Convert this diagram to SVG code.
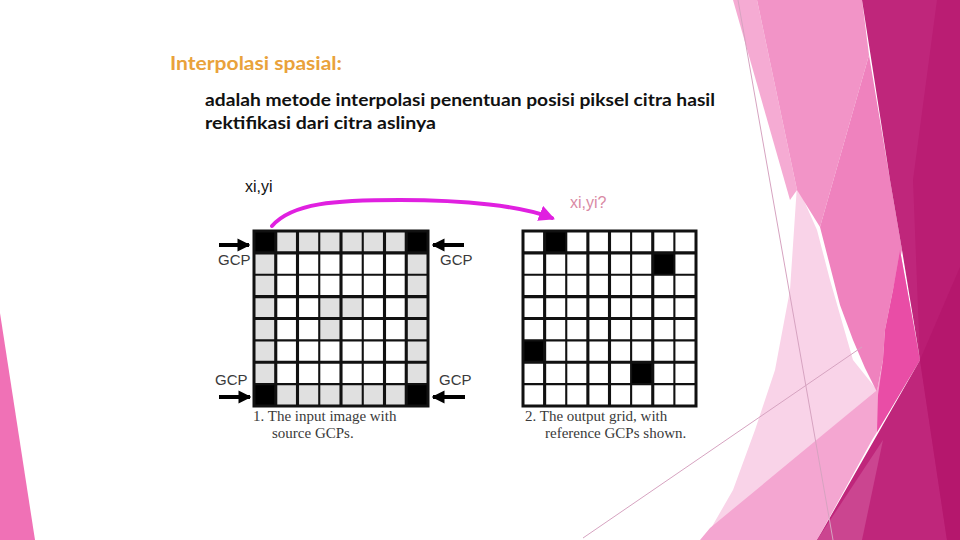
<svg xmlns="http://www.w3.org/2000/svg" width="960" height="540" viewBox="0 0 960 540">
<style>
.title{font-family:Lato,"Open Sans","Liberation Sans",sans-serif;font-weight:bold;font-size:19px;fill:#E9A23B}
.body{font-family:Lato,"Open Sans","Liberation Sans",sans-serif;font-weight:bold;font-size:17px;fill:#111}
.coord{font-family:"Liberation Sans",Arial,sans-serif;font-size:16px}
.gcp{font-family:"Liberation Sans",Arial,sans-serif;font-size:15px;fill:#3a3a3a}
.cap{font-family:"Liberation Serif","Times New Roman",serif;font-size:15px;fill:#3a3a3a}
.gl{stroke:#111;fill:none}
.thick{stroke-width:3.1}
.thin{stroke-width:2.1}
.blk{fill:#000}
.gry{fill:#E0E0E0}
.deco-line{stroke:#D6A3C0;stroke-width:1;fill:none}
</style>
<defs>
<marker id="mag" viewBox="0 0 10 10" refX="8" refY="5" markerWidth="4" markerHeight="4" orient="auto" markerUnits="strokeWidth">
<path d="M0,0 L10,5 L0,10 z" fill="#E020E0"/>
</marker>
<marker id="blkhead" viewBox="0 0 10 10" refX="9" refY="5" markerWidth="3.2" markerHeight="3.4" orient="auto" markerUnits="strokeWidth">
<path d="M0,0 L10,5 L0,10 z" fill="#000"/>
</marker>
</defs>
<rect width="960" height="540" fill="#fff"/>
<g id="decoration">
<polygon points="0,313 35,540 0,540" fill="#F071B6"/>
<polygon points="797,185 817,230 830,280 853,360 877,390 710,530 733,490 755,430 775,370 790,290" fill="#F9D3E8"/>
<polygon points="733,0 757,0 797,190 790,200" fill="#F5ABD3"/>
<polygon points="757,0 862,0 869,55 820,227 797,190" fill="#F294C7"/>
<polygon points="869,55 890,180 902,250 900,260 893,290 885,330 883,360 877,392 865,368 853,340 840,305 820,227" fill="#EF82BE"/>
<polygon points="877,390 883,360 885,330 893,290 900,250 920,360 877,432 872,440 817,540 700,540 710,528" fill="#F4A6D1"/>
<polygon points="900,250 920,360 877,432 878,395 883,360 885,330 893,290" fill="#E94DA6"/>
<polygon points="862,0 960,0 960,540 817,540 920,360 902,250 890,180" fill="#BF267B"/>
<polygon points="937,0 960,0 960,540 947,540 920,360 913,180" fill="#BA1D73"/>
<polygon points="960,267 920,360 947,540 960,540" fill="#B5176D"/>
<polygon points="817,540 862,540 883,440" fill="#CB4590"/>
<line class="deco-line" x1="738" y1="0" x2="833" y2="540"/>
<line class="deco-line" x1="583" y1="538" x2="862" y2="347"/>
</g>
<g id="title"><text class="title" x="170" y="70" textLength="172" lengthAdjust="spacingAndGlyphs">Interpolasi spasial:</text></g>
<g id="body">
<text class="body" x="205" y="106" textLength="510" lengthAdjust="spacingAndGlyphs">adalah metode interpolasi penentuan posisi piksel citra hasil</text>
<text class="body" x="205" y="129" textLength="231" lengthAdjust="spacingAndGlyphs">rektifikasi dari citra aslinya</text>
</g>
<g id="label-source"><text class="coord" x="245" y="192" fill="#111">xi,yi</text></g>
<g id="label-target"><text class="coord" x="570" y="208" fill="#D98AA5">xi,yi?</text></g>
<g id="grid-input">
<rect x="254" y="231" width="174" height="175" class="gry"/>
<rect x="275.75" y="252.875" width="130.5" height="131.25" fill="#fff"/>
<rect x="319.25" y="296.625" width="21.75" height="21.875" class="gry"/>
<rect x="319.25" y="318.5" width="21.75" height="21.875" class="gry"/>
<rect x="341" y="296.625" width="21.75" height="21.875" class="gry"/>
<rect x="254" y="231" width="21.75" height="21.875" class="blk"/>
<rect x="406.25" y="231" width="21.75" height="21.875" class="blk"/>
<rect x="254" y="384.125" width="21.75" height="21.875" class="blk"/>
<rect x="406.25" y="384.125" width="21.75" height="21.875" class="blk"/>
<path class="gl thick" d="M275.75,231V406M297.5,231V406M341,231V406M384.5,231V406M406.25,231V406M254,252.875H428M254,296.625H428M254,318.5H428M254,362.25H428"/>
<path class="gl thin" d="M319.25,231V406M362.75,231V406M254,274.75H428M254,340.375H428M254,384.125H428"/>
<rect x="254" y="231" width="174" height="175" class="gl" stroke-width="3"/>
<text class="gcp" x="218" y="265">GCP</text>
<text class="gcp" x="440" y="265">GCP</text>
<text class="gcp" x="215" y="385">GCP</text>
<text class="gcp" x="439" y="385">GCP</text>
<g stroke="#000" stroke-width="4" fill="none">
<line x1="219" y1="245" x2="249" y2="245" marker-end="url(#blkhead)"/>
<line x1="464" y1="245" x2="433" y2="245" marker-end="url(#blkhead)"/>
<line x1="219" y1="397" x2="250" y2="397" marker-end="url(#blkhead)"/>
<line x1="465" y1="397" x2="433" y2="397" marker-end="url(#blkhead)"/>
</g>
<text class="cap" x="253" y="421">1. The input image with</text>
<text class="cap" x="272" y="438">source GCPs.</text>
</g>
<g id="grid-output">
<rect x="523" y="231" width="173" height="175" fill="#fff"/>
<rect x="544.625" y="231" width="21.625" height="21.875" class="blk"/>
<rect x="652.75" y="252.875" width="21.625" height="21.875" class="blk"/>
<rect x="523" y="340.375" width="21.625" height="21.875" class="blk"/>
<rect x="631.125" y="362.25" width="21.625" height="21.875" class="blk"/>
<path class="gl thick" d="M544.625,231V406M587.875,231V406M609.5,231V406M652.75,231V406M523,252.875H696M523,296.625H696M523,318.5H696M523,362.25H696"/>
<path class="gl thin" d="M566.25,231V406M631.125,231V406M674.375,231V406M523,274.75H696M523,340.375H696M523,384.125H696"/>
<rect x="523" y="231" width="173" height="175" class="gl" stroke-width="3"/>
<text class="cap" x="525" y="421">2. The output grid, with</text>
<text class="cap" x="545" y="438">reference GCPs shown.</text>
</g>
<g id="connectors">
<path d="M272,226 C292,203 335,200 400,200 S522,206 552,218" stroke="#E020E0" stroke-width="4" fill="none" stroke-linecap="round" marker-end="url(#mag)"/>
</g>
</svg>
